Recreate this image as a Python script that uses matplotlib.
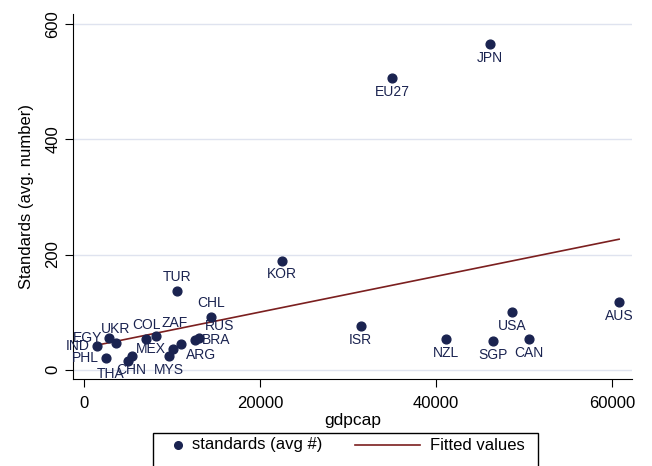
import matplotlib
matplotlib.use("Agg")
import matplotlib.pyplot as plt
from matplotlib.patches import Rectangle
from matplotlib.lines import Line2D
import numpy as np

plt.rcParams['font.family'] = ['Liberation Sans', 'DejaVu Sans']

countries = ['IND', 'EGY', 'UKR', 'PHL', 'THA', 'CHN', 'COL', 'ZAF', 'MEX', 'MYS',
             'ARG', 'BRA', 'RUS', 'CHL', 'TUR', 'KOR', 'ISR', 'EU27', 'NZL', 'SGP',
             'USA', 'CAN', 'JPN', 'AUS']
gdpcap = [1440, 2840, 3640, 2460, 5040, 5420, 7050, 8150, 10070, 9660,
          10980, 12610, 13100, 14430, 10570, 22500, 31440, 35000, 41140, 46440,
          48670, 50600, 46140, 60830]
standards = [41.7, 55, 46, 20, 14.5, 24, 54, 59, 37, 24,
             44.7, 52, 56, 92, 137, 189.6, 76.5, 506, 52.7, 50.4,
             99.7, 53.2, 565, 117]
# Stata-style clock positions for marker labels
label_pos = [9, 9, 12, 9, 7, 6, 12, 1, 9, 6,
             4, 3, 2, 12, 12, 6, 6, 6, 6, 6,
             6, 6, 6, 6]

navy = '#1a2350'
maroon = '#7b1f1f'

fig = plt.figure(figsize=(6.52, 4.66), dpi=100)
ax = fig.add_axes([0.112, 0.187, 0.857, 0.783])

ax.scatter(gdpcap, standards, s=40, color=navy, zorder=3)

# linear fit
x = np.array(gdpcap, dtype=float)
y = np.array(standards, dtype=float)
b, a = np.polyfit(x, y, 1)
xs = np.array([x.min(), x.max()])
ax.plot(xs, a + b * xs, color=maroon, lw=1.2, zorder=2)

offsets = {
    12: ((0, 5), 'center', 'bottom'),
    1: ((4, 4), 'left', 'bottom'),
    2: ((4, 3), 'left', 'bottom'),
    3: ((5, 0), 'left', 'center'),
    4: ((4, -3), 'left', 'top'),
    6: ((0, -5), 'center', 'top'),
    7: ((-3, -4), 'right', 'top'),
    9: ((-5, 0), 'right', 'center'),
}
for c, xv, yv, p in zip(countries, gdpcap, standards, label_pos):
    off, ha, va = offsets[p]
    ax.annotate(c, (xv, yv), xytext=off, textcoords='offset points',
                ha=ha, va=va, fontsize=10, color=navy, zorder=4)

ax.set_xlim(-1250, 62270)
ax.set_ylim(-15.6, 617)
ax.set_xticks([0, 20000, 40000, 60000])
ax.set_yticks([0, 200, 400, 600])
ax.tick_params(axis='both', direction='out', length=6, labelsize=12, color='black')
ax.tick_params(axis='x', pad=6)
ax.tick_params(axis='y', pad=3)
for lbl in ax.get_yticklabels():
    lbl.set_rotation(90)
    lbl.set_va('center')
ax.grid(axis='y', color='#dfe3ef', lw=1)
ax.set_axisbelow(True)
for s in ['top', 'right']:
    ax.spines[s].set_visible(False)
ax.set_xlabel('gdpcap', fontsize=12.5, labelpad=2)
ax.set_ylabel('Standards (avg. number)', fontsize=12, labelpad=8)

# legend box drawn by hand (Stata layout: dot close to its text, long line key)
W, H = 652.0, 466.0
fig.add_artist(Rectangle((153 / W, -0.01), (538 - 153) / W, (466 - 433) / H + 0.01,
                         transform=fig.transFigure, facecolor='white',
                         edgecolor='black', lw=1))
ly = (H - 445) / H
fig.add_artist(Line2D([178 / W], [ly], marker='o', markersize=5.5, color=navy,
                      transform=fig.transFigure))
fig.text(192 / W, ly, 'standards (avg #)', fontsize=12, va='center', ha='left')
fig.add_artist(Line2D([355 / W, 420 / W], [ly, ly], color=maroon, lw=1.2,
                      transform=fig.transFigure))
fig.text(430 / W, ly, 'Fitted values', fontsize=12, va='center', ha='left')

fig.savefig('out.png', dpi=100)
